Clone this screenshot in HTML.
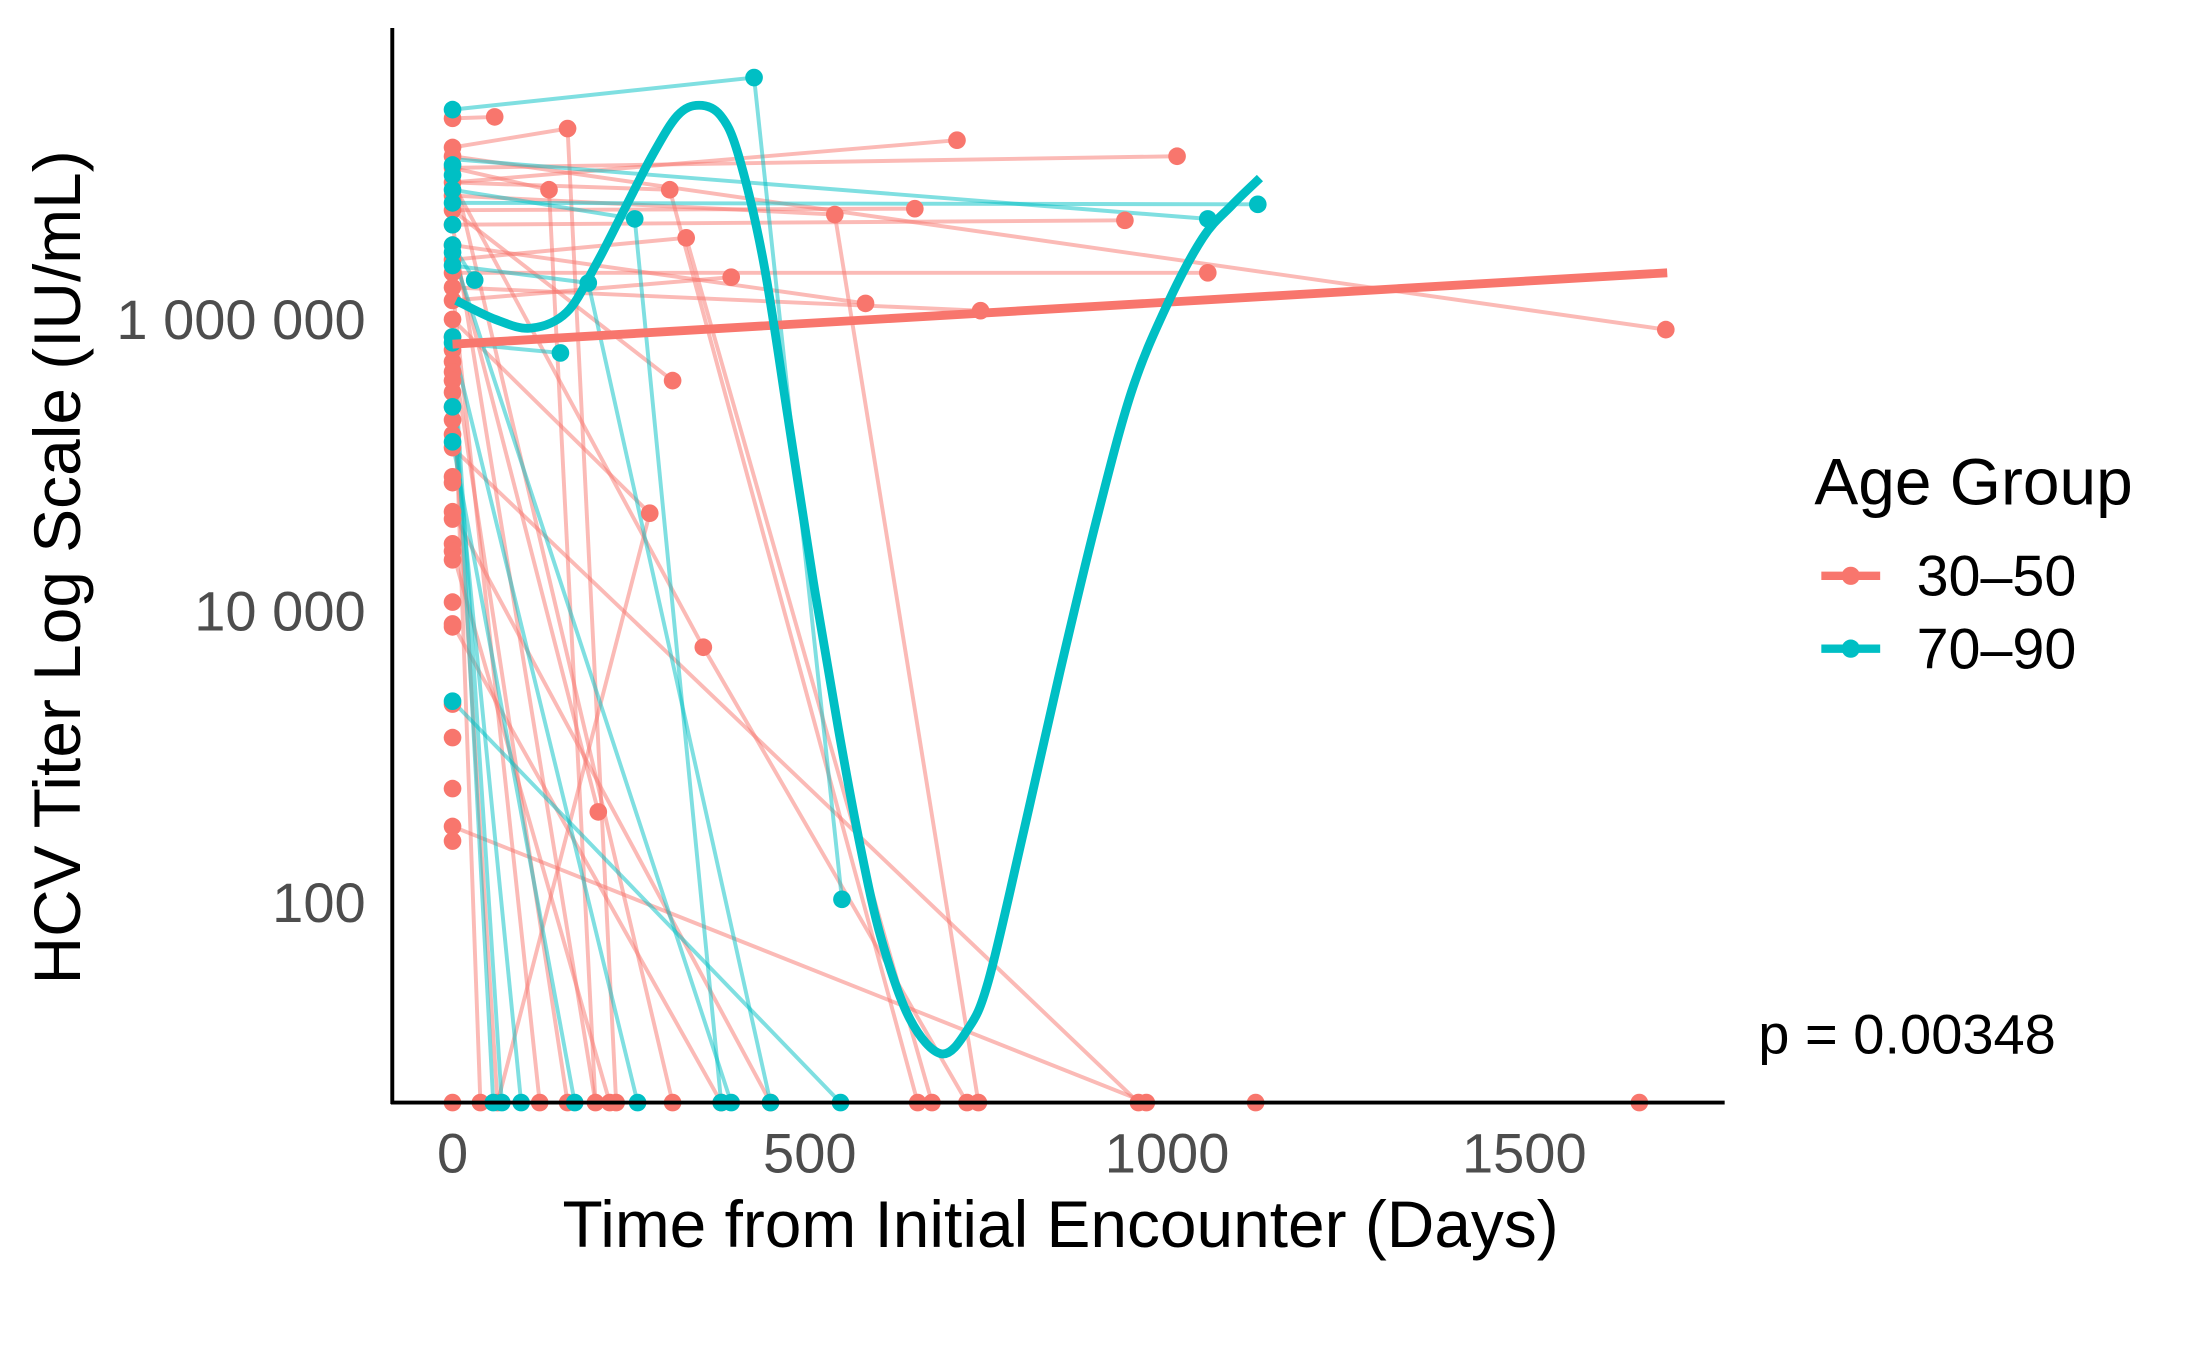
<!DOCTYPE html>
<html><head><meta charset="utf-8"><style>
html,body{margin:0;padding:0;background:#fff;}
svg{display:block;font-family:"Liberation Sans",Arial,sans-serif;}
</style></head><body>
<svg id="chart" width="2187" height="1350" viewBox="0 0 1561 963.6" preserveAspectRatio="none" xmlns="http://www.w3.org/2000/svg">
<g id="lines"></g>
<g id="points"></g>
<g id="smooth"></g>
<line x1="280" y1="20" x2="280" y2="788" stroke="#000" stroke-width="2.8"/>
<line x1="279" y1="787" x2="1231" y2="787" stroke="#000" stroke-width="2.8"/>
<g id="xticks"></g>
<g id="yticks"></g>
<text x="757" y="890" font-size="47" text-anchor="middle" fill="#000">Time from Initial Encounter (Days)</text>
<text transform="translate(57,405) rotate(-90)" font-size="47" text-anchor="middle" fill="#000">HCV Titer Log Scale (IU/mL)</text>
<text x="1255" y="752" font-size="40" fill="#000">p = 0.00348</text>
<g>
<text x="1295" y="360" font-size="47" fill="#000">Age Group</text>
<g>
<line x1="1300" y1="411" x2="1342" y2="411" stroke="#F8766D" stroke-width="6"/>
<circle cx="1321" cy="411" r="6.5" fill="#F8766D"/>
<text x="1368" y="425" font-size="41" fill="#000">30–50</text></g>
<g>
<line x1="1300" y1="463" x2="1342" y2="463" stroke="#00BFC4" stroke-width="6"/>
<circle cx="1321" cy="463" r="6.5" fill="#00BFC4"/>
<text x="1368" y="477" font-size="41" fill="#000">70–90</text></g>
</g>
</svg>
<script>
const ND = 0.625;
const xTicks = [0, 500, 1000, 1500];
const yTicks = [2, 4, 6];
const yTickLabels = ["100", "10 000", "1 000 000"];
const redT0 = [7.38,7.18,7.12,7.04,6.94,6.85,6.75,6.65,6.51,6.41,6.32,6.22,6.13,6.0,5.88,5.79,5.71,5.64,5.58,5.5,5.4,5.31,5.21,5.12,4.92,4.88,4.68,4.63,4.46,4.41,4.35,4.06,3.91,3.89,3.36,3.13,2.78,2.52,2.42];
const tealT0 = [7.44,7.06,6.99,6.89,6.8,6.65,6.51,6.46,6.37,5.88,5.84,5.4,5.16,3.38];
const redOtherT = [59,161,135,304,327,390,535,647,706,941,1014,1057,578,739,1698,308,276,351,204];
const redOtherV = [7.39,7.31,6.89,6.89,6.56,6.29,6.72,6.76,7.23,6.68,7.12,6.32,6.11,6.06,5.93,5.58,4.67,3.75,2.62];
const tealOtherT = [422,31,190,151,255,1057,1127,545];
const tealOtherV = [7.66,6.27,6.25,5.77,6.69,6.69,6.79,2.02];
const redBottomT = [0,39,63,122,161,200,220,229,308,376,445,651,671,720,736,960,971,1124,1661];
const tealBottomT = [57,69,96,171,259,376,390,445,543];
const redSegs = [[0,7.18,161,7.31],[0,7.38,59,7.39],[0,7.04,135,6.89],[0,6.94,304,6.89],[0,6.85,535,6.72],[0,6.75,647,6.76],[0,6.94,706,7.23],[0,7.04,1014,7.12],[0,6.65,941,6.68],[0,6.32,1057,6.32],[0,6.13,390,6.29],[0,6.22,739,6.06],[0,6.51,578,6.11],[0,7.12,1698,5.93],[0,6.41,327,6.56],[0,6.75,308,5.58],[0,6.0,276,4.67],[0,6.94,351,3.75],[0,6.51,204,2.62],[161,7.31,229,ND],[0,5.88,39,ND],[0,5.5,63,ND],[0,6.22,122,ND],[0,5.79,161,ND],[0,6.65,200,ND],[0,7.04,308,ND],[304,6.89,651,ND],[327,6.56,671,ND],[351,3.75,720,ND],[0,5.12,960,ND],[0,2.52,971,ND],[535,6.72,736,ND],[63,ND,276,4.67],[0,4.68,445,ND],[0,4.41,220,ND],[0,3.91,376,ND],[135,6.89,200,ND]];
const tealSegs = [[0,7.44,422,7.66],[422,7.66,545,2.02],[0,7.1,1057,6.69],[0,6.89,255,6.69],[255,6.69,376,ND],[0,6.37,190,6.25],[0,6.51,31,6.27],[0,5.84,151,5.77],[0,6.8,1127,6.79],[0,5.88,57,ND],[0,5.4,96,ND],[0,5.16,171,ND],[0,5.84,259,ND],[190,6.25,445,ND],[0,6.46,390,ND],[0,5.88,69,ND],[0,3.38,543,ND]];
const redFitT = [0, 1700];
const redFitV = [5.83, 6.32];
const tealFitT = [5,60,110,160,200,240,280,315,345,375,400,435,470,505,540,570,600,640,684,720,750,800,850,900,950,1000,1050,1090,1130];
const tealFitV = [6.13,6.0,5.94,6.05,6.37,6.75,7.13,7.4,7.47,7.4,7.13,6.4,5.31,4.2,3.19,2.4,1.75,1.2,0.96,1.12,1.46,2.5,3.58,4.6,5.5,6.1,6.56,6.78,6.97];

const NS="http://www.w3.org/2000/svg";
const xs = t => 323 + t*0.51;
const ys = v => 228 - (v-6)*104;
function mk(tag, attrs, parent){const e=document.createElementNS(NS,tag);for(const k in attrs)e.setAttribute(k,attrs[k]);parent.appendChild(e);return e;}
const gl=document.getElementById('lines'), gp=document.getElementById('points'), gs=document.getElementById('smooth');
function segs(arr,col){arr.forEach(s=>{const l=mk('line',{x1:xs(s[0]),y1:ys(s[1]),x2:xs(s[2]),y2:ys(s[3]),stroke:col,'stroke-width':2.8,'stroke-opacity':0.5},gl);

});}
segs(redSegs,'#F8766D');segs(tealSegs,'#00BFC4');
function pts(ts,vs,col){ts.forEach((t,i)=>{const c=mk('circle',{cx:xs(t),cy:ys(vs[i]),r:6.3,fill:col},gp);

});}
pts(redT0.map(()=>0),redT0,'#F8766D');
pts(redOtherT,redOtherV,'#F8766D');
pts(redBottomT,redBottomT.map(()=>ND),'#F8766D');
pts(tealT0.map(()=>0),tealT0,'#00BFC4');
pts(tealOtherT,tealOtherV,'#00BFC4');
pts(tealBottomT,tealBottomT.map(()=>ND),'#00BFC4');
function path(ts,vs,col,name){let d='';
if(ts.length>2){const P=ts.map((t,i)=>[xs(t),ys(vs[i])]);d='M'+P[0];
for(let i=0;i<P.length-1;i++){const p0=P[i-1]||P[i],p1=P[i],p2=P[i+1],p3=P[i+2]||p2;
d+=' C'+(p1[0]+(p2[0]-p0[0])/6)+','+(p1[1]+(p2[1]-p0[1])/6)+' '+(p2[0]-(p3[0]-p1[0])/6)+','+(p2[1]-(p3[1]-p1[1])/6)+' '+p2[0]+','+p2[1];}}
else d='M'+xs(ts[0])+','+ys(vs[0])+' L'+xs(ts[1])+','+ys(vs[1]);
const p=mk('path',{d:d,fill:'none',stroke:col,'stroke-width':6.3},gs);

}
path(redFitT,redFitV,'#F8766D','trend-30-50');
path(tealFitT,tealFitV,'#00BFC4','trend-70-90');
const gx=document.getElementById('xticks'),gy=document.getElementById('yticks');
xTicks.forEach(t=>{const e=mk('text',{x:xs(t),y:837,'font-size':40,'text-anchor':'middle',fill:'#4d4d4d'},gx);e.textContent=t;

});
yTicks.forEach((v,i)=>{const e=mk('text',{x:261,y:ys(v)+14,'font-size':40,'text-anchor':'end',fill:'#4d4d4d'},gy);e.textContent=yTickLabels[i];

});
</script>
</body></html>
